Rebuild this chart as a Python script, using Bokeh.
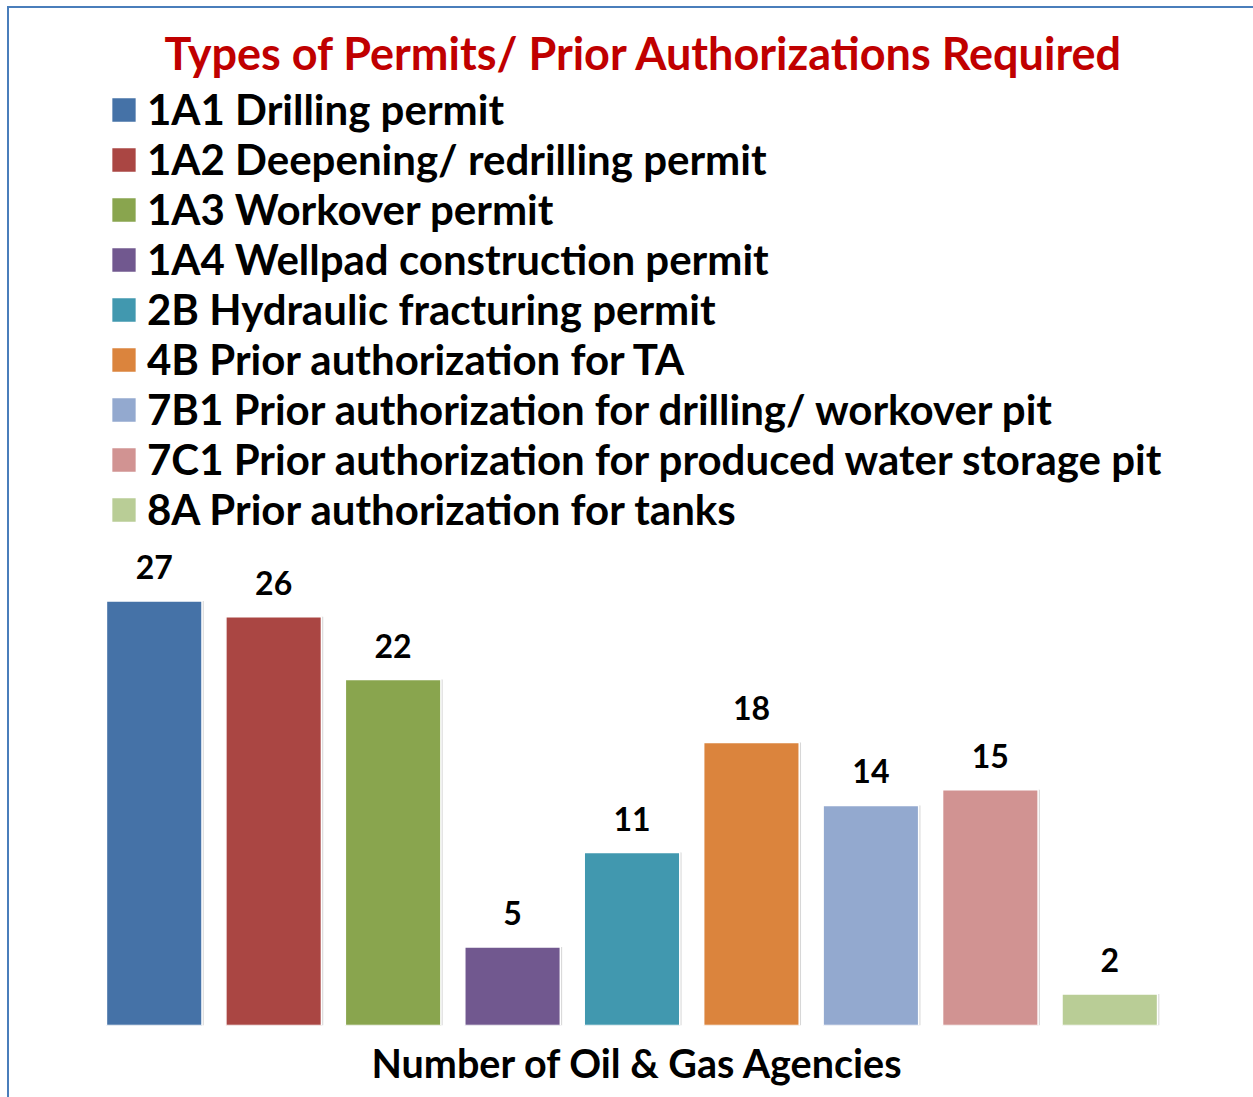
from bokeh.plotting import figure
from bokeh.models import ColumnDataSource, FactorRange, LabelSet, Legend, LegendItem, Title
from bokeh.core.properties import value
from bokeh.transform import dodge
from bokeh.embed import file_html
from bokeh.resources import INLINE

codes = ["1A1", "1A2", "1A3", "1A4", "2B", "4B", "7B1", "7C1", "8A"]
labels = [
    "1A1 Drilling permit",
    "1A2 Deepening/ redrilling permit",
    "1A3 Workover permit",
    "1A4 Wellpad construction permit",
    "2B Hydraulic fracturing permit",
    "4B Prior authorization for TA",
    "7B1 Prior authorization for drilling/ workover pit",
    "7C1 Prior authorization for produced water storage pit",
    "8A Prior authorization for tanks",
]
counts = [27, 26, 22, 5, 11, 18, 14, 15, 2]
colors = ["#4572A7", "#AA4643", "#89A54E", "#71588F", "#4198AF",
          "#DB843D", "#93A9CF", "#D19392", "#B9CD96"]

FONT = "Lato"

src = ColumnDataSource(dict(code=codes, label=labels, count=counts,
                            color=colors, text=[str(c) for c in counts]))

W, H = 1253, 1097
p = figure(width=W, height=H, output_backend="svg", toolbar_location=None,
           x_range=FactorRange(factors=codes), y_range=(0, 59.85),
           min_border_left=94, min_border_right=84, min_border_bottom=71,
           min_border_top=84, title=None)

# chart-area border: only its top and left edges fall inside the window
p.border_fill_color = None
p.background_fill_color = None
p.styles = {"box-shadow": "inset 7px 6px 0 0 #ffffff, inset 9px 8px 0 0 #4a7ebb",
            "background-color": "#ffffff"}

p.add_layout(Title(text="Types of Permits/ Prior Authorizations Required",
                   align="left", offset=70, text_font=FONT, text_font_size="45px",
                   text_font_style="bold", text_color="#C00000"), "above")
p.add_layout(Title(text="Number of Oil & Gas Agencies",
                   align="left", offset=277, standoff=23, text_font=FONT,
                   text_font_size="39.5px", text_font_style="bold",
                   text_color="black"), "below")

p.outline_line_color = None
p.xgrid.visible = False
p.ygrid.visible = False
p.yaxis.visible = False
p.xaxis.visible = False

# soft shadow
p.vbar(x=dodge("code", 0.015, range=p.x_range), top="count", bottom=0,
       width=0.8, source=src, fill_color="#bdbdbd", fill_alpha=0.6,
       line_color=None)
bars = p.vbar(x="code", top="count", width=0.8, source=src,
              fill_color="color", line_color="white", line_width=1.5)

lbl = LabelSet(x="code", y="count", text="text", source=src, y_offset=22,
               text_align="center", text_baseline="alphabetic",
               text_font=value(FONT), text_font_size=value("32px"),
               text_font_style="bold", text_color="black")
p.add_layout(lbl)

items = [LegendItem(label=labels[i], renderers=[bars], index=i) for i in range(len(labels))]
legend = Legend(items=items, location=(14, 491), orientation="vertical",
                label_text_font=FONT, label_text_font_size="42px",
                label_text_font_style="bold", label_text_color="black",
                glyph_width=31, glyph_height=31, label_height=48,
                label_standoff=8, spacing=0, padding=0, margin=0,
                border_line_color=None, background_fill_alpha=0)
p.add_layout(legend)

open("out.html", "w").write(file_html(p, INLINE))
